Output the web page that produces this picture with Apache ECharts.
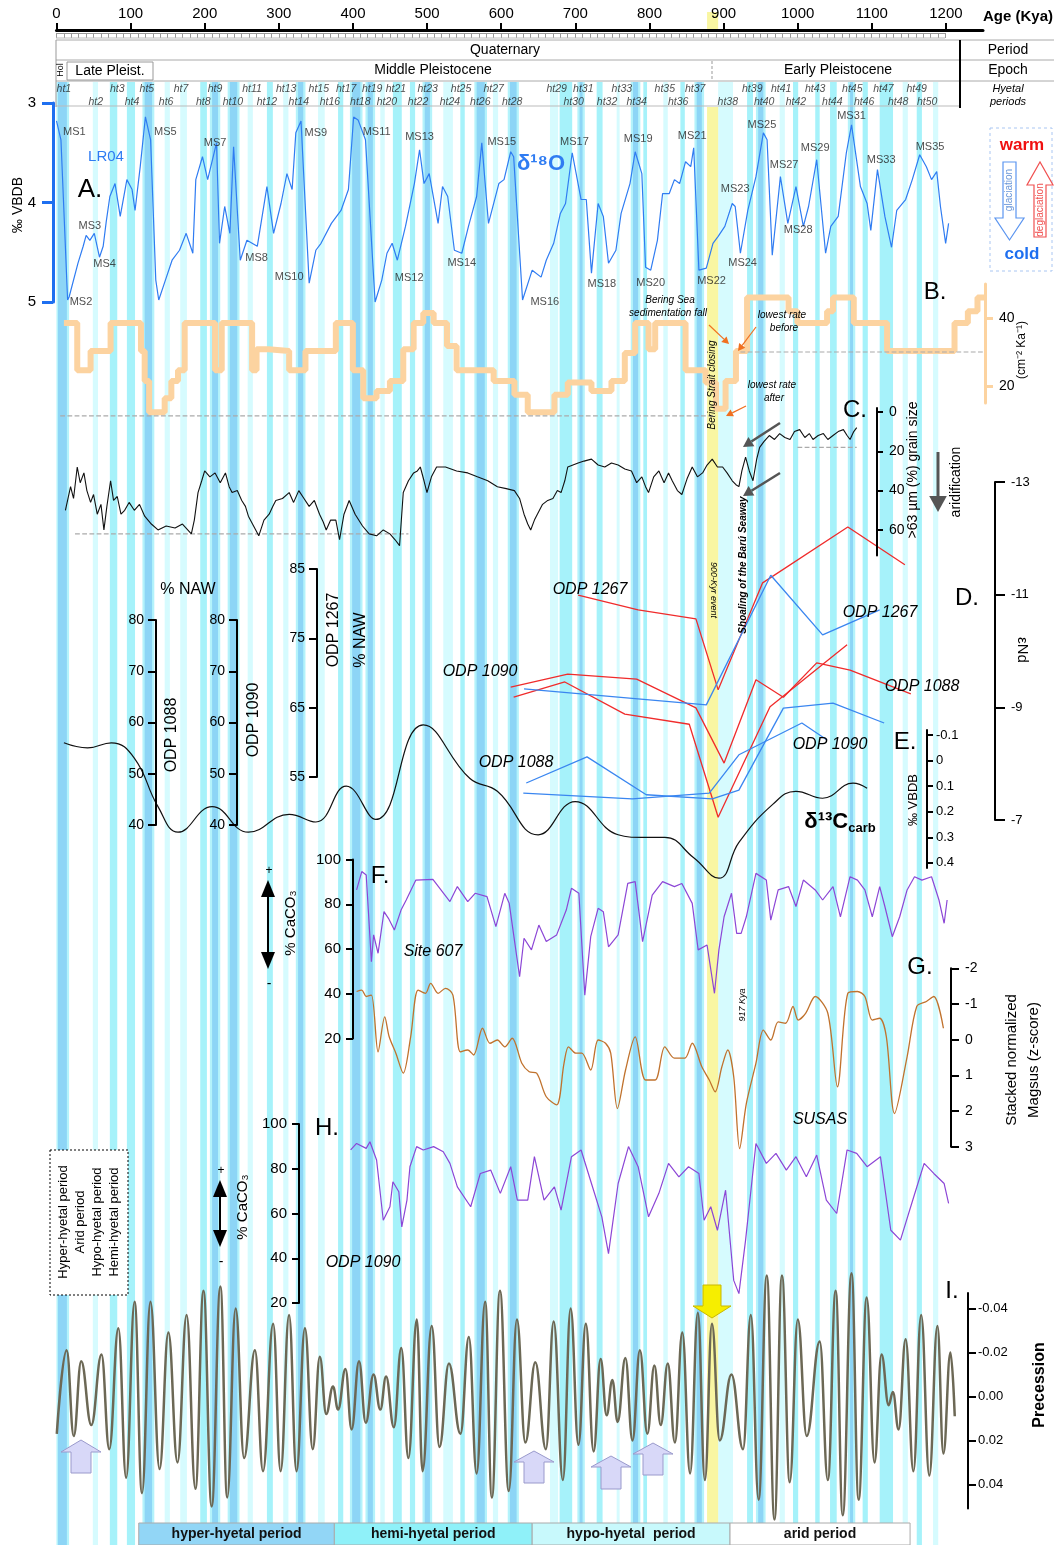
<!DOCTYPE html>
<html>
<head>
<meta charset="utf-8">
<script src="https://cdn.jsdelivr.net/npm/echarts@6/dist/echarts.min.js"></script>
<style>
html,body{margin:0;padding:0;background:#fff;}
#main{width:1054px;height:1545px;}
</style>
</head>
<body>
<div id="main"></div>
<script>
// ---- data (ages in kyr) ----
var ageTicks = [0,100,200,300,400,500,600,700,800,900,1000,1100,1200];

// interglacial stripes [start, end]
var blueStripes = [[2,14],[119,129],[210,218],[234,244],[326,333],[399,410],[420,427],[497,504],[567,578],[612,621],[706,710],[778,785],[864,871],[947,954],[1071,1075]];
var cyanStripes = [[72,82],[95,106],[194,203],[284,292],[380,387],[454,466],[477,484],[545,551],[679,696],[729,737],[792,797],[842,848],[932,940],[994,1001],[1024,1030],[1044,1053],[1088,1095],[1111,1129],[1161,1168]];
var paleStripes = [[49,56],[146,153],[167,176],[258,265],[306,313],[353,362],[437,443],[522,535],[589,596],[666,677],[756,760],[819,825],[893,913],[976,983],[1142,1149],[1183,1190]];
var yellowBand = [878, 893];

// hyetal period labels
var htOddAge = [10,82,122,168,214,264,310,354,391,426,458,501,546,590,675,711,763,821,862,939,978,1024,1074,1116,1161];
var htEvenAge = [53,102,148,198,238,284,327,369,410,446,488,531,572,615,698,743,783,839,906,955,998,1047,1090,1136,1175];

// A. LR04 d18O
var d18o = [[0,3.18],[6,3.37],[15,4.98],[17,4.95],[29,4.61],[36,4.44],[40,4.33],[45,4.38],[51,4.31],[58,4.55],[63,4.44],[67,4.2],[72,3.94],[79,3.81],[86,4.14],[95,3.77],[102,3.87],[106,4.08],[113,3.64],[120,3.14],[127,3.37],[134,4.78],[138,4.98],[147,4.78],[156,4.58],[166,4.48],[175,4.31],[184,4.51],[188,3.77],[197,3.54],[204,3.77],[216,3.4],[220,4.41],[227,4.04],[234,4.31],[239,3.44],[248,4.58],[257,4.38],[271,4.44],[284,3.84],[293,4.31],[303,4.01],[311,3.71],[318,3.87],[323,3.3],[330,3.18],[341,4.81],[350,4.48],[357,4.41],[371,4.21],[384,4.08],[394,3.87],[401,3.14],[407,3.17],[417,3.37],[430,5.0],[439,4.78],[446,4.51],[453,4.41],[460,4.58],[471,4.24],[483,3.81],[490,3.47],[496,3.81],[503,3.71],[515,4.21],[521,3.84],[528,3.94],[537,4.48],[547,4.51],[556,4.24],[567,3.94],[574,3.4],[583,4.21],[597,3.81],[604,3.77],[613,3.49],[617,3.54],[629,4.98],[642,4.68],[654,4.75],[661,4.58],[671,4.41],[680,4.11],[687,4.01],[696,3.5],[708,3.97],[715,3.97],[722,4.71],[731,4.01],[738,4.14],[745,4.61],[755,4.48],[762,4.11],[774,3.81],[781,3.49],[790,3.71],[795,4.65],[802,4.68],[811,4.38],[818,3.91],[827,3.91],[834,3.77],[841,3.81],[849,3.59],[856,3.64],[860,3.45],[867,4.68],[877,4.66],[886,4.41],[893,4.34],[902,4.24],[912,4.01],[916,4.04],[923,4.51],[933,4.08],[944,3.74],[954,3.3],[959,3.37],[966,4.53],[977,3.74],[987,4.21],[998,3.84],[1008,4.24],[1015,4.04],[1026,3.57],[1038,4.51],[1045,4.24],[1055,4.14],[1066,3.5],[1073,3.22],[1085,3.84],[1094,4.01],[1099,4.28],[1108,3.67],[1118,4.14],[1127,4.45],[1134,4.08],[1146,3.97],[1155,3.77],[1165,3.52],[1174,3.64],[1181,3.77],[1188,3.69],[1193,4.04],[1200,4.41],[1204,4.21]];
var msNames = ['MS1','MS2','MS3','MS4','MS5','MS6','MS7','MS8','MS9','MS10','MS11','MS12','MS13','MS14','MS15','MS16','MS17','MS18','MS19','MS20','MS21','MS22','MS23','MS24','MS25','MS27','MS28','MS29','MS31','MS33','MS35'];
var msAge = [24,33,45,65,147,138,214,270,350,314,432,476,490,547,601,659,699,736,785,802,858,884,916,926,952,982,1001,1024,1073,1113,1179];
var msVal = [3.29,5.0,4.24,4.62,3.29,5.02,3.4,4.56,3.3,4.75,3.29,4.76,3.34,4.61,3.39,5.0,3.39,4.82,3.36,4.81,3.33,4.79,3.86,4.61,3.22,3.62,4.28,3.45,3.13,3.57,3.44];

// B. Bering Sea sedimentation rate (step start age, value)
var sedRate = [[10,38.5],[28,24.6],[46,30.3],[73,38.5],[114,30.3],[119,21.5],[125,12.3],[146,16.4],[155,21.5],[164,24.6],[173,38.5],[214,24.6],[223,38.5],[264,24.6],[270,30.8],[286,30.3],[314,24.6],[336,30.3],[377,38.5],[400,24.6],[414,16.4],[432,18.5],[450,21.5],[468,30.8],[482,38.5],[495,41.5],[509,38.5],[527,31.8],[540,24.6],[590,21.5],[618,17.4],[636,12.3],[672,17.4],[690,21],[722,18.5],[749,21.5],[767,29.7],[781,38.5],[799,30.8],[808,38.5],[849,24.6],[876,21],[890,13.3],[903,21.5],[917,30.3],[932,46],[988,42],[1000,38.5],[1040,42],[1048,46],[1076,38.5],[1121,30.3],[1212,38.5],[1230,42],[1243,46],[1252,46]];

// C. >63 um grain size (%)
var grain = [[12,50],[19,38],[23,44],[28,28],[32,36],[37,31],[41,40],[46,46],[50,42],[55,52],[60,47],[64,60],[68,48],[73,35],[77,45],[82,43],[87,52],[92,50],[98,46],[105,50],[112,47],[119,53],[128,57],[137,60],[148,58],[160,59],[170,57],[182,62],[186,55],[191,41],[196,35],[200,30],[207,33],[214,31],[221,36],[228,31],[233,38],[237,41],[244,40],[250,45],[255,48],[259,53],[266,58],[273,63],[280,55],[287,52],[292,48],[296,45],[305,44],[314,41],[320,46],[327,40],[334,44],[341,48],[348,45],[355,52],[360,56],[364,60],[370,55],[377,55],[382,65],[388,52],[395,45],[403,52],[413,58],[422,62],[432,63],[441,60],[450,62],[457,65],[463,68],[468,41],[475,35],[482,31],[487,30],[491,28],[496,35],[500,41],[506,33],[513,28],[525,28],[540,30],[555,31],[568,33],[582,35],[595,38],[607,39],[618,40],[625,44],[631,52],[636,57],[640,60],[645,55],[649,52],[656,47],[663,45],[670,44],[676,40],[681,41],[686,35],[690,28],[697,27],[704,26],[712,25],[722,24],[731,27],[740,28],[749,26],[758,27],[767,29],[776,30],[783,36],[790,33],[795,38],[799,41],[806,33],[813,30],[820,36],[826,31],[831,35],[838,40],[844,42],[851,34],[858,28],[865,33],[872,31],[878,27],[885,24],[892,28],[899,28],[905,31],[912,35],[917,37],[921,38],[925,30],[930,23],[935,30],[940,35],[945,24],[949,18],[955,15],[962,12],[969,14],[976,11],[983,13],[990,14],[996,10],[1003,9],[1010,13],[1016,11],[1021,14],[1028,12],[1035,11],[1041,14],[1048,12],[1055,10],[1062,9],[1067,12],[1071,14],[1076,10],[1080,8]];

// D. eNd (red)
var nd1267 = [[704,-10.99],[785,-10.73],[863,-10.57],[893,-9.31],[953,-11.21],[1068,-12.2],[1145,-11.53]];
var nd1088 = [[613,-9.36],[690,-9.59],[783,-9.5],[863,-8.99],[901,-8.01],[944,-9.49],[981,-9.18],[1026,-9.79],[1071,-9.66],[1153,-9.24]];
var nd1090 = [[617,-9.18],[686,-9.45],[767,-8.88],[854,-8.7],[893,-7.05],[963,-9.01],[1067,-10.11]];
// % NAW (blue)
var naw1267 = [[631,67.7],[877,65.4],[964,84.1],[1034,75.5],[1111,79.1]];
var naw1088 = [[634,48.2],[716,53.3],[796,45.9],[885,45.1],[921,46.8],[981,62.8],[1048,63.8],[1117,59.9]];
var naw1090 = [[630,46.2],[777,45.1],[881,46.2],[921,53.7],[1006,59.9],[1040,56.6]];

// E. d13C carb
var d13c = [[10,-0.07],[42,-0.05],[74,-0.07],[105,-0.01],[137,0.18],[164,0.28],[210,0.18],[259,0.28],[314,0.21],[350,0.24],[391,0.1],[431,0.23],[495,-0.14],[558,0.07],[595,0.12],[650,0.29],[700,0.16],[758,0.29],[790,0.3],[821,0.3],[860,0.38],[894,0.46],[921,0.32],[967,0.17],[998,0.12],[1034,0.147],[1075,0.088],[1094,0.108]];

// F. Site 607 %CaCO3
var caco3Site607 = [[405,86.4],[412,94.6],[418,93.1],[425,54.3],[428,66.3],[434,58.1],[442,76.7],[448,73.7],[456,68.5],[465,77.4],[472,81.9],[485,90.8],[508,91.1],[531,81.2],[541,87.9],[555,81.2],[565,84.9],[581,83.4],[593,70],[605,84.9],[611,80.4],[625,47.6],[631,64.8],[641,59.6],[651,70.7],[661,63.3],[675,66.3],[688,77.4],[695,87.1],[705,84.9],[713,39.4],[721,65.5],[731,78.2],[738,76.7],[745,61],[758,66.3],[771,89.3],[781,90.1],[791,63.3],[804,84.1],[818,90.1],[834,87.9],[844,89.3],[858,80.4],[866,59.6],[878,61.8],[888,40.2],[894,59.6],[901,74.4],[911,84.9],[918,67],[924,67],[931,74.4],[944,93.8],[958,90.8],[964,72.9],[974,86.4],[988,87.9],[998,79],[1008,90.8],[1024,86.4],[1034,81.9],[1048,87.9],[1058,74.4],[1071,92.3],[1081,90.8],[1091,86.4],[1101,74.4],[1111,87.9],[1118,79],[1128,65.5],[1138,74.4],[1148,86.4],[1158,92.3],[1168,90.8],[1181,92.3],[1191,81.9],[1198,71.5],[1202,81.9]];

// G. stacked normalized Magsus (z-score)
var magsus = [[405,-1.35],[412,-1.39],[418,-1.21],[425,-1.25],[434,0.34],[443,-0.64],[449,-0.08],[458,0.38],[468,0.94],[478,-0.08],[488,-1.39],[498,-1.3],[505,-1.58],[515,-1.3],[525,-1.44],[535,-1.25],[545,0.34],[555,0.29],[563,0.43],[575,-0.32],[585,0.1],[595,0.01],[605,0.2],[615,-0.04],[628,0.66],[638,0.9],[648,0.94],[661,1.6],[675,1.83],[685,0.66],[691,0.2],[701,0.38],[709,0.38],[721,0.85],[731,0.01],[741,0.1],[748,0.38],[757,1.93],[768,0.85],[781,-0.08],[795,1.13],[808,1.13],[821,0.2],[834,0.52],[848,0.52],[858,0.1],[871,0.76],[881,1.13],[889,1.46],[898,0.76],[906,0.29],[914,1.04],[922,3.05],[931,1.79],[944,0.66],[954,-0.27],[964,0.01],[974,-0.5],[984,-0.46],[994,-0.93],[1001,-0.55],[1011,-0.74],[1024,-1.21],[1041,-0.74],[1054,1.32],[1068,-1.3],[1081,-1.35],[1091,-1.21],[1101,-0.55],[1111,-0.6],[1120,-0.08],[1131,2.07],[1148,0.48],[1161,-0.93],[1174,-1.07],[1184,-1.21],[1197,-0.32]];

// H. ODP 1090 %CaCO3
var caco3Odp1090 = [[397,88.4],[405,91.3],[418,89.1],[423,92.1],[432,83.9],[441,57],[450,63],[454,74.2],[462,69.7],[466,54],[473,66],[477,80.9],[486,89.9],[495,88.4],[509,89.9],[522,87.6],[531,82.4],[541,71.9],[559,63],[572,77.9],[586,79.4],[599,69],[613,80.9],[622,66],[636,66],[645,85.4],[658,66],[672,71.9],[681,61.5],[695,85.4],[708,88.4],[722,73.4],[736,58.5],[745,42.1],[758,73.4],[772,89.9],[785,80.9],[799,58.5],[813,69],[826,82.4],[840,76.4],[853,80.9],[867,77.9],[874,57],[883,63],[892,52.5],[903,70.4],[914,30.1],[921,24.2],[930,48.1],[944,91.3],[958,82.4],[971,86.9],[985,79.4],[998,85.4],[1012,76.4],[1026,86.1],[1039,66],[1053,60],[1067,88.4],[1080,86.9],[1094,80.9],[1112,85.4],[1126,52.5],[1139,48.1],[1157,67.5],[1171,82.4],[1184,77.9],[1198,73.4],[1204,64.5]];

// I. precession (turning points)
var precession = [[0.4,0.017],[13.7,-0.021],[23.3,0.018],[33.3,-0.016],[47,0.013],[60.7,-0.019],[71.2,0.024],[83.5,-0.031],[94,0.037],[105.4,-0.043],[115.4,0.044],[126.8,-0.043],[139.1,0.033],[151,-0.029],[163.3,0.03],[175.6,-0.037],[187.5,0.042],[198.4,-0.048],[209.4,0.05],[221.2,-0.05],[230.4,0.046],[241.8,-0.04],[253.2,0.028],[267.8,-0.021],[278.7,0.034],[292.4,-0.033],[302.5,0.034],[313.9,-0.037],[323.9,0.034],[335.3,-0.031],[345.8,0.024],[355.4,-0.018],[364,0.008],[373.2,-0.0045],[380,0.006],[390,-0.0125],[398.3,0.015],[408.3,-0.016],[417.4,0.012],[427.9,-0.01],[437,0.006],[444.8,-0.009],[455.3,0.014],[465.3,-0.022],[474.9,0.028],[486.3,-0.035],[494,0.034],[506.4,-0.032],[516.9,0.023],[529.6,-0.015],[545.2,0.017],[556.5,-0.027],[567,0.035],[578.5,-0.043],[587.6,0.046],[598.5,-0.048],[610.4,0.043],[621.4,-0.035],[632.8,0.021],[646.2,-0.0155],[660.5,0.024],[671,-0.034],[683.4,0.038],[693.9,-0.04],[704.4,0.022],[714.4,-0.033],[724.9,0.025],[734.4,-0.017],[742.5,0.0086],[750.2,-0.0075],[757.3,0.0116],[767.8,-0.0175],[777.3,0.02],[787.4,-0.021],[797.4,0.017],[806.9,-0.014],[815.5,0.013],[825,-0.015],[834.6,0.021],[844.6,-0.029],[855.1,0.035],[865.6,-0.038],[875.1,0.038],[884.6,-0.033],[895.1,0.02],[910.9,-0.01],[926.6,0.024],[937.1,-0.037],[947.6,0.047],[958.6,-0.055],[969,0.056],[979.1,-0.055],[989.6,0.039],[1000.5,-0.035],[1012.5,0.018],[1030.1,-0.025],[1041,0.038],[1051.6,-0.048],[1061.1,0.054],[1073,-0.056],[1082.6,0.047],[1093.5,-0.045],[1104,0.03],[1113.5,-0.019],[1123.1,0.004],[1128.8,-0.002],[1136.5,0.015],[1146,-0.026],[1156.5,0.034],[1167,-0.037],[1178,0.036],[1188.9,-0.032],[1197,0.026],[1206.5,-0.02],[1212.3,0.009]];

// bottom bar
var periodNames = ['hyper-hyetal period','hemi-hyetal period','hypo-hyetal  period','arid period'];
var periodStart = [111,375,642,909];
var periodEnd = [375,642,909,1152];
var periodColors = ['#92d6f6','#8ff1f9','#c8f9fc','#ffffff'];

// ---- layout ----
var FONT = '"Liberation Sans", Arial, sans-serif';
var L = 56.5, W = 941, XMAX = 1270;

var chart = echarts.init(document.getElementById('main'));

function grid(top, height, width) { return {left: L, top: top, width: width || W, height: height}; }
function hx(gi, max) { return {type:'value', gridIndex: gi, min: 0, max: max || XMAX, show: false, axisLine:{onZero:false}}; }
function hy(gi, min, max, inv) { return {type:'value', gridIndex: gi, min: min, max: max, inverse: !!inv, show: false, axisLine:{onZero:false}}; }
function vy(gi, min, max, o) {
    return {
        type: 'value', gridIndex: gi, min: min, max: max, inverse: !!o.inv, z: 20,
        position: o.pos, offset: o.off,
        axisLine: {show: true, onZero: false, lineStyle: {color: o.color || '#000', width: o.lw || 2}},
        axisTick: {show: true, length: o.tl || 7, customValues: o.ticks, lineStyle: {color: o.color || '#000', width: o.lw || 2}},
        axisLabel: {show: true, customValues: o.ticks, fontSize: o.fs || 14, color: '#000', margin: o.margin || 12, fontFamily: FONT, formatter: o.fmt},
        splitLine: {show: false}
    };
}

// stripes as markArea
var stripeAreas = [];
blueStripes.forEach(function (s) { stripeAreas.push([{xAxis: s[0] - 3, itemStyle: {color: '#b4f3fb'}}, {xAxis: s[1] + 3}]); });
cyanStripes.forEach(function (s) { stripeAreas.push([{xAxis: s[0], itemStyle: {color: '#a6f2fa'}}, {xAxis: s[1]}]); });
paleStripes.forEach(function (s) { stripeAreas.push([{xAxis: s[0], itemStyle: {color: '#d6fbfe'}}, {xAxis: s[1]}]); });
blueStripes.forEach(function (s) { stripeAreas.push([{xAxis: s[0], itemStyle: {color: '#8dd5f6'}}, {xAxis: s[1]}]); });
stripeAreas.push([{xAxis: yellowBand[0], yAxis: 25, itemStyle: {color: '#f9f6a2'}}, {xAxis: yellowBand[1], yAxis: 1441}]);

var periodAreas = periodNames.map(function (n, i) {
    return [{name: n, xAxis: periodStart[i], itemStyle: {color: periodColors[i], borderColor: '#aaa', borderWidth: 1}}, {xAxis: periodEnd[i]}];
});

var grids = [
    grid(82, 1463),          // 0 stripes
    grid(12, 19),            // 1 yellow on top axis
    grid(30, 3, 926.5),      // 2 top age axis
    grid(33, 5, 889),        // 3 ruler
    grid(82, 25),            // 4 ht labels
    grid(103, 199),          // 5 A
    grid(284, 119),          // 6 B
    grid(408, 147.5),        // 7 C
    grid(482, 338),          // 8 D
    grid(620, 205),          // 9 NAW 1088/1090
    grid(569, 208),          // 10 NAW 1267
    grid(730, 138),          // 11 E
    grid(859.5, 179),        // 12 F
    grid(968.3, 178.4),      // 13 G
    grid(1124, 179),         // 14 H
    grid(1293, 215.6),       // 15 I
    grid(1523, 22)           // 16 bar
];

var xAxes = [];
for (var g = 0; g < grids.length; g++) xAxes.push(hx(g));
xAxes[2] = {
    type: 'value', gridIndex: 2, min: 0, max: 1250, position: 'top', z: 20,
    axisLine: {show: true, onZero: false, lineStyle: {color: '#000', width: 3}},
    axisTick: {show: true, length: 7, customValues: ageTicks, lineStyle: {color: '#000', width: 2}},
    axisLabel: {show: true, customValues: ageTicks, fontSize: 15, color: '#000', margin: 9, fontFamily: FONT,
        formatter: function (v) { return String(v); }},
    splitLine: {show: false}
};
xAxes[3] = {
    type: 'value', gridIndex: 3, min: 0, max: 1200, interval: 10, position: 'top', z: 20,
    axisLine: {show: true, onZero: false, lineStyle: {color: '#999', width: 1}},
    axisTick: {show: true, inside: true, length: 5, lineStyle: {color: '#999', width: 1}},
    axisLabel: {show: false}, splitLine: {show: false}
};

var yAxes = [
    hy(0, 0, 1463, true),   // 0
    hy(1, 0, 1),            // 1
    hy(2, 0, 1),            // 2
    hy(3, 0, 1),            // 3
    hy(4, 0, 1),            // 4
    vy(5, 3, 5, {inv: true, pos: 'left', off: 3.5, color: '#1e6ff0', lw: 3, tl: 11, ticks: [3, 4, 5], fs: 15, margin: 17}),          // 5 A
    vy(6, 15, 50, {pos: 'right', off: -12.5, color: '#fcd3a0', lw: 3, tl: 8, ticks: [20, 40], margin: 14}),                          // 6 B
    vy(7, -2, 73, {inv: true, pos: 'right', off: -120.5, ticks: [0, 20, 40, 60], tl: 6, margin: 12}),                               // 7 C
    vy(8, -13, -7, {inv: true, pos: 'right', off: -2.5, ticks: [-13, -11, -9, -7], tl: 10, fs: 13, margin: 16}),                    // 8 D
    vy(9, 40, 80, {pos: 'left', off: -99.5, ticks: [40, 50, 60, 70, 80], tl: 8, margin: 12}),                                       // 9 NAW 1088
    vy(9, 40, 80, {pos: 'left', off: -180.5, ticks: [40, 50, 60, 70, 80], tl: 8, margin: 12}),                                      // 10 NAW 1090
    vy(10, 55, 85, {pos: 'left', off: -260.5, ticks: [55, 65, 75, 85], tl: 8, margin: 12}),                                         // 11 NAW 1267
    vy(11, -0.12, 0.42, {inv: true, pos: 'right', off: -70.5, ticks: [-0.1, 0, 0.1, 0.2, 0.3, 0.4], tl: 6, fs: 13, margin: 9}),     // 12 E
    vy(12, 20, 100, {pos: 'left', off: -296.5, ticks: [20, 40, 60, 80, 100], tl: 7, fs: 15, margin: 12}),                           // 13 F
    vy(13, -2, 3, {inv: true, pos: 'right', off: -46.5, ticks: [-2, -1, 0, 1, 2, 3], tl: 8, margin: 14}),                           // 14 G
    vy(14, 20, 100, {pos: 'left', off: -242.5, ticks: [20, 40, 60, 80, 100], tl: 7, fs: 15, margin: 12}),                           // 15 H
    vy(15, -0.047, 0.051, {inv: true, pos: 'right', off: -29.5, ticks: [-0.04, -0.02, 0, 0.02, 0.04], tl: 8, fs: 13, margin: 10,
        fmt: function (v) { return v.toFixed(2); }}),                                                                                 // 16 I
    hy(16, 0, 1)            // 17 bar
];

function line(xi, yi, data, color, width, extra) {
    var s = {type: 'line', xAxisIndex: xi, yAxisIndex: yi, data: data, symbol: 'none', clip: false, z: 3,
        lineStyle: {color: color, width: width}, silent: true};
    for (var k in extra) s[k] = extra[k];
    return s;
}
var dash = {color: '#aaa', width: 1.2, type: 'dashed'};

var series = [
    {type: 'line', xAxisIndex: 0, yAxisIndex: 0, data: [[0, -50]], symbol: 'none', z: 0, silent: true,
        lineStyle: {opacity: 0}, markArea: {silent: true, label: {show: false}, data: stripeAreas}},
    {type: 'line', xAxisIndex: 1, yAxisIndex: 1, data: [[0, -5]], symbol: 'none', z: 0, silent: true,
        lineStyle: {opacity: 0}, markArea: {silent: true, label: {show: false},
            data: [[{xAxis: yellowBand[0], itemStyle: {color: '#f9f6a2'}}, {xAxis: yellowBand[1]}]]}},
    {type: 'scatter', xAxisIndex: 4, yAxisIndex: 4, symbolSize: 0, z: 5, silent: true,
        data: htOddAge.map(function (a, i) { return {value: [a, 0.72], name: 'ht' + (2 * i + 1)}; })
            .concat(htEvenAge.map(function (a, i) { return {value: [a, 0.2], name: 'ht' + (2 * i + 2)}; })),
        label: {show: true, position: 'inside', formatter: '{b}', fontSize: 10.5, fontStyle: 'italic', color: '#222', fontFamily: FONT}},
    // A
    line(5, 5, d18o, '#2f7cf2', 1.2),
    {type: 'scatter', xAxisIndex: 5, yAxisIndex: 5, symbolSize: 0, z: 5, silent: true,
        data: msNames.map(function (n, i) { return {value: [msAge[i], msVal[i]], name: n}; }),
        label: {show: true, position: 'inside', formatter: '{b}', fontSize: 11, color: '#222', fontFamily: FONT}},
    // B
    line(6, 6, sedRate, '#fcd3a0', 6, {step: 'end', z: 2}),
    line(6, 6, [[923, 30], [1253, 30]], '#aaa', 1.2, {lineStyle: dash}),
    // C
    line(7, 7, [[5, 2], [890, 2]], '#aaa', 1.2, {lineStyle: dash}),
    line(7, 7, [[25, 62], [475, 62]], '#aaa', 1.2, {lineStyle: dash}),
    line(7, 7, [[1000, 18], [1080, 18]], '#aaa', 1.2, {lineStyle: dash}),
    line(7, 7, grain, '#111', 1.1),
    // D
    line(8, 8, nd1267, '#f02b2b', 1.3),
    line(8, 8, nd1088, '#f02b2b', 1.3),
    line(8, 8, nd1090, '#f02b2b', 1.3),
    line(10, 11, naw1267, '#3a86f0', 1.3),
    line(9, 9, naw1088, '#3a86f0', 1.3),
    line(9, 10, naw1090, '#3a86f0', 1.3),
    // E
    line(11, 12, d13c, '#111', 1.2, {smooth: 0.45}),
    // F, G, H
    line(12, 13, caco3Site607, '#8c46d6', 1.2),
    line(13, 14, magsus, '#c0722d', 1.3, {smooth: 0.3}),
    line(14, 15, caco3Odp1090, '#8c46d6', 1.2),
    // I
    line(15, 16, precession, '#6c6855', 2.5, {smooth: 0.42, smoothMonotone: 'x'}),
    // bar
    {type: 'line', xAxisIndex: 16, yAxisIndex: 17, data: [[0, -5]], symbol: 'none', z: 6, silent: true,
        lineStyle: {opacity: 0}, markArea: {silent: true, data: periodAreas,
            label: {show: true, position: 'inside', formatter: '{b}', fontSize: 14, fontWeight: 'bold', color: '#111', fontFamily: FONT}}}
];

// ---- annotations ----
function txt(s, x, y, o) {
    o = o || {};
    return {type: 'text', x: x, y: y, rotation: o.rot || 0, z: 100, silent: true,
        style: {text: s, fill: o.color || '#000', fontSize: o.size || 14, fontFamily: FONT,
            fontWeight: o.bold ? 'bold' : 'normal', fontStyle: o.italic ? 'italic' : 'normal',
            align: o.align || 'center', verticalAlign: 'middle', textAlign: o.align || 'center', textVerticalAlign: 'middle',
            rich: o.rich}};
}
function seg(x1, y1, x2, y2, color, w, d) {
    return {type: 'line', z: 100, silent: true, shape: {x1: x1, y1: y1, x2: x2, y2: y2},
        style: {stroke: color, lineWidth: w, lineDash: d || null}};
}
function poly(pts, fill, stroke, w, d) {
    return {type: 'polygon', z: 100, silent: true, shape: {points: pts},
        style: {fill: fill, stroke: stroke || null, lineWidth: w || 0, lineDash: d || null}};
}
function arrow(x1, y1, x2, y2, color, w, h) {
    var a = Math.atan2(y2 - y1, x2 - x1);
    h = h || 8;
    var bx = x2 - h * Math.cos(a), by = y2 - h * Math.sin(a);
    var px = Math.sin(a) * h * 0.55, py = -Math.cos(a) * h * 0.55;
    return [seg(x1, y1, bx, by, color, w), poly([[x2, y2], [bx + px, by + py], [bx - px, by - py]], color)];
}
function upArrow(cx, tip, base, bottom, fill, stroke) {
    return poly([[cx, tip], [cx + 20, base], [cx + 10, base], [cx + 10, bottom], [cx - 10, bottom], [cx - 10, base], [cx - 20, base]], fill, stroke, 1);
}
var R = Math.PI / 2;
var els = [];
function add(a) { els = els.concat(a); }

// header
add([
    seg(56, 40, 1054, 40, '#aaa', 1), seg(56, 60, 1054, 60, '#aaa', 1), seg(56, 81, 1054, 81, '#aaa', 1),
    seg(56, 106, 960, 106, '#bbb', 1), seg(56, 40, 56, 107, '#999', 1), seg(960, 40, 960, 108, '#000', 2),
    seg(56, 38, 945, 38, '#bbb', 1),
    {type: 'rect', z: 100, silent: true, shape: {x: 67, y: 62, width: 86, height: 18}, style: {fill: 'none', stroke: '#999', lineWidth: 1}},
    seg(712, 61, 712, 80, '#999', 1, [3, 2]),
    txt('Age (Kya)', 1018, 17, {bold: true, size: 15}),
    txt('Quaternary', 505, 50, {size: 14}), txt('Period', 1008, 50, {size: 14}),
    txt('Hol', 61, 70, {size: 9, rot: R}), txt('Late Pleist.', 110, 71, {size: 14}),
    txt('Middle Pleistocene', 433, 70, {size: 14}), txt('Early Pleistocene', 838, 70, {size: 14}), txt('Epoch', 1008, 70, {size: 14}),
    txt('Hyetal', 1008, 89, {size: 11, italic: true}), txt('periods', 1008, 102, {size: 11, italic: true})
]);
// A
add([
    txt('A.', 90, 190, {size: 26}), txt('LR04', 106, 157, {size: 15, color: '#2f7cf2'}),
    txt('δ¹⁸O', 541, 164, {size: 22, bold: true, color: '#2f7cf2'}),
    txt('‰ VBDB', 18, 205, {size: 14, rot: R}),
    {type: 'rect', z: 100, silent: true, shape: {x: 990, y: 128, width: 62, height: 143}, style: {fill: 'none', stroke: '#a9c6f2', lineWidth: 1, lineDash: [3, 3]}},
    txt('warm', 1022, 145, {size: 17, bold: true, color: '#f01010'}), txt('cold', 1022, 254, {size: 17, bold: true, color: '#1e6ff0'}),
    poly([[1003, 162], [1016, 162], [1016, 218], [1024, 218], [1009.5, 240], [995, 218], [1003, 218]], '#fff', '#5b95f0', 1.2),
    poly([[1034, 237], [1046, 237], [1046, 185], [1053, 185], [1040, 162], [1027, 185], [1034, 185]], '#fff', '#f05050', 1.2),
    txt('glaciation', 1009.5, 190, {size: 10, rot: R, color: '#6a96d8'}),
    txt('deglaciation', 1040, 210, {size: 10, rot: R, color: '#f05050'})
]);
// B / C
add([
    txt('B.', 935, 292, {size: 24}),
    txt('(cm⁻² Ka⁻¹)', 1022, 350, {size: 12, rot: R}),
    txt('Bering Sea', 670, 300, {size: 10, italic: true}), txt('sedimentation fall', 668, 313, {size: 10, italic: true}),
    txt('lowest rate', 782, 315, {size: 10, italic: true}), txt('before', 784, 328, {size: 10, italic: true}),
    txt('lowest rate', 772, 385, {size: 10, italic: true}), txt('after', 774, 398, {size: 10, italic: true}),
    txt('Bering Strait closing', 712, 385, {size: 10, italic: true, rot: R}),
    txt('C.', 855, 410, {size: 24}),
    txt('>63 µm (%) grain size', 913, 470, {size: 14, rot: R}),
    txt('aridification', 956, 482, {size: 14, rot: R})
]);
add(arrow(709, 325, 729, 344, '#f07020', 1.2, 7));
add(arrow(756, 327, 738, 351, '#f07020', 1.2, 7));
add(arrow(746, 406, 726, 416, '#f07020', 1.2, 7));
add(arrow(780, 423, 743, 447, '#555', 2.5, 10));
add(arrow(780, 473, 743, 496, '#555', 2.5, 10));
add(arrow(938, 452, 938, 512, '#555', 3, 16));
// D / E
add([
    txt('D.', 967, 598, {size: 24}),
    txt('εNd', 1022, 650, {size: 15, rot: -R}),
    txt('% NAW', 188, 590, {size: 16}),
    txt('ODP 1088', 172, 735, {size: 16, rot: R}), txt('ODP 1090', 254, 720, {size: 16, rot: R}),
    txt('ODP 1267', 334, 630, {size: 16, rot: R}), txt('% NAW', 361, 640, {size: 16, rot: R}),
    txt('ODP 1267', 590, 590, {size: 16, italic: true}), txt('ODP 1267', 880, 613, {size: 16, italic: true}),
    txt('ODP 1090', 480, 672, {size: 16, italic: true}), txt('ODP 1088', 922, 687, {size: 16, italic: true}),
    txt('ODP 1090', 830, 745, {size: 16, italic: true}), txt('ODP 1088', 516, 763, {size: 16, italic: true}),
    txt('900-Kyr event', 713, 590, {size: 9, italic: true, rot: -R}),
    txt('Shoaling of the Barú Seaway', 743, 565, {size: 10, italic: true, bold: true, rot: R}),
    txt('E.', 905, 742, {size: 24}),
    txt('δ¹³C{s|carb}', 840, 822, {size: 22, bold: true, rich: {s: {fontSize: 13, fontWeight: 'bold', fontFamily: FONT, padding: [12, 0, 0, 0]}}}),
    txt('‰ VBDB', 913, 800, {size: 13, rot: R})
]);
// F / G
add([
    txt('F.', 380, 876, {size: 24}),
    txt('% CaCO₃', 291, 923, {size: 15, rot: R}),
    txt('+', 269, 871, {size: 12}), txt('-', 269, 984, {size: 14}),
    poly([[268, 880], [275, 897], [261, 897]], '#000'), seg(268, 897, 268, 952, '#000', 2), poly([[268, 969], [275, 952], [261, 952]], '#000'),
    txt('Site 607', 433, 952, {size: 16, italic: true}),
    txt('917 Kya', 742, 1005, {size: 9, italic: true, rot: R}),
    txt('G.', 920, 967, {size: 24}),
    txt('Stacked normalized', 1012, 1060, {size: 15, rot: R}), txt('Magsus (z-score)', 1034, 1060, {size: 15, rot: R}),
    txt('SUSAS', 820, 1120, {size: 16, italic: true})
]);
// H / I
add([
    txt('H.', 327, 1128, {size: 24}),
    txt('% CaCO₃', 243, 1207, {size: 15, rot: R}),
    txt('+', 221, 1171, {size: 12}), txt('-', 221, 1262, {size: 14}),
    poly([[220, 1180], [227, 1197], [213, 1197]], '#000'), seg(220, 1197, 220, 1230, '#000', 2), poly([[220, 1247], [227, 1230], [213, 1230]], '#000'),
    txt('ODP 1090', 363, 1263, {size: 16, italic: true}),
    {type: 'rect', z: 100, silent: true, shape: {x: 50, y: 1150, width: 78, height: 145}, style: {fill: '#fff', stroke: '#000', lineWidth: 1, lineDash: [2, 2]}},
    txt('Hyper-hyetal period', 63, 1222, {size: 13, rot: R}), txt('Arid period', 80, 1222, {size: 13, rot: R}),
    txt('Hypo-hyetal period', 97, 1222, {size: 13, rot: R}), txt('Hemi-hyetal period', 114, 1222, {size: 13, rot: R}),
    txt('I.', 952, 1291, {size: 24}),
    txt('Precession', 1040, 1385, {size: 16, bold: true, rot: R}),
    upArrow(81, 1440, 1452, 1473, '#d8d8f8', '#9a9acc'),
    upArrow(534, 1451, 1462, 1483, '#d8d8f8', '#9a9acc'),
    upArrow(611, 1456, 1467, 1489, '#d8d8f8', '#9a9acc'),
    upArrow(653, 1443, 1454, 1475, '#d8d8f8', '#9a9acc'),
    poly([[703, 1285], [721, 1285], [721, 1306], [731, 1306], [712, 1318], [693, 1306], [703, 1306]], '#f6ee00', '#c9b800', 1)
]);

var option = {
    animation: false,
    backgroundColor: '#fff',
    textStyle: {fontFamily: FONT},
    grid: grids,
    xAxis: xAxes,
    yAxis: yAxes,
    series: series,
    graphic: {elements: els}
};
chart.setOption(option);
</script>
</body>
</html>
